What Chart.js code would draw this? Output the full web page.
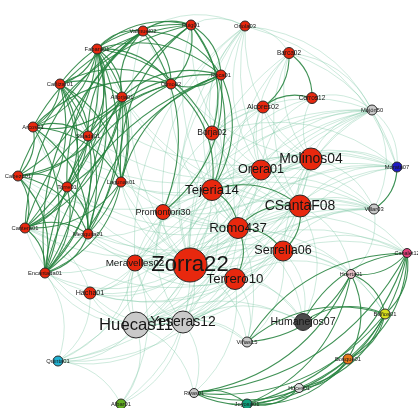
<!DOCTYPE html>
<html>
<head>
<meta charset="utf-8">
<script src="https://cdn.jsdelivr.net/npm/chart.js@4.4.1/dist/chart.umd.min.js"></script>
<style>
  html, body { margin: 0; padding: 0; background: #ffffff; }
  #wrap { width: 418px; height: 408px; }
</style>
</head>
<body>
<div id="wrap"><canvas id="net" width="418" height="408"></canvas></div>
<script>
// Site names (nodes of the network)
const siteNames = [
  "Fabara01", "Cañizar01", "Alforja01", "Arcos01", "Salada01", "Cabezo01",
  "Torre01", "Lagunas01", "Cantera01", "Mezquita01", "Encantada01", "Valmuel02",
  "Puig01", "Roca01", "Olmo02", "Borja02", "Oriola03", "Alcores02",
  "Barca02", "Cerros12", "Mojón50", "Molinos04", "Morata07", "CSantaF08",
  "Villar03", "Serrella06", "Canalet12", "Huerta01", "Orera01", "Tejeria14",
  "Promontori30", "Romo437", "Zorra22", "Terrero10", "Meravelles02", "Hacha01",
  "Huecas11", "Yeseras12", "Viñas15", "Humanejos07", "Baños01", "Bosque01",
  "Hoces01", "Rivas01", "Joyosa01", "Quinta01", "Albar01"
];

// Layout coordinates of each site
const layoutX = [
  97, 60, 122, 33, 88, 18, 67, 121, 25, 88, 45, 143,
  191, 221, 171, 212, 245, 263, 289, 312, 372, 311, 397, 300,
  374, 283, 407, 351, 261, 212, 163, 238, 190, 235, 135, 90,
  136, 183, 247, 303, 385, 348, 299, 194, 247, 58, 121
];
const layoutY = [
  49, 84, 97, 127, 136, 176, 187, 182, 228, 234, 273, 31,
  25, 75, 84, 133, 26, 107, 53, 98, 110, 159, 167, 206,
  209, 251, 253, 274, 170, 190, 212, 228, 265, 279, 263, 293,
  325, 322, 342, 322, 314, 359, 388, 393, 404, 361, 404
];

// Node weight (drawn as bubble radius)
const siteWeight = [
  5, 5, 5, 5, 5, 5, 5, 5, 5, 5, 5, 5,
  5, 5, 5, 7, 5, 6, 5.5, 5.5, 5, 11, 5, 11,
  5, 10, 4.5, 4.5, 10, 10.5, 7.5, 10.5, 17, 10.5, 8, 6,
  13, 11, 5, 8.5, 5, 5, 4.5, 4.5, 5, 5, 5
];

// Community of each site
const siteGroup = [
  0, 0, 0, 0, 0, 0, 0, 0, 0, 0, 0, 0,
  0, 0, 0, 0, 0, 0, 0, 0, 1, 0, 3, 0,
  1, 0, 4, 5, 0, 0, 0, 0, 0, 0, 0, 0,
  1, 1, 1, 2, 6, 7, 11, 1, 8, 9, 10
];

// Strong links (dark green)
const strongLinks = [
  [0,1],[0,2],[0,3],[0,4],[0,5],[0,6],[0,7],[0,8],[0,9],[0,10],[0,11],[0,12],[0,13],[0,14],
  [1,2],[1,3],[1,4],[1,6],[1,7],[1,8],[1,9],[1,10],[1,12],[1,14],
  [2,3],[2,5],[2,6],[2,8],[2,9],[2,10],[2,11],[2,13],
  [3,4],[3,5],[3,7],[3,9],[3,10],[3,12],[3,14],
  [4,5],[4,8],[4,10],[4,11],[4,13],
  [5,6],[5,8],[5,9],[5,10],[5,12],
  [6,8],[6,9],[6,10],[6,11],[6,14],
  [7,8],[7,10],[7,12],[7,13],
  [8,9],[8,10],[8,11],[8,14],
  [9,10],[9,12],[9,13],
  [10,11],[10,13],[10,14],
  [11,12],[11,13],[11,14],
  [12,13],[12,14],[13,14],
  [13,29],[12,29],[14,29],[11,30],[13,30],[0,15],[12,15],
  [29,31],[29,23],[31,25],[31,33],[23,25],[31,23],
  [22,24],[18,19],[17,19],[18,17],
  [26,27],[26,40],[26,41],[26,42],[26,43],[26,44],
  [27,40],[27,41],[27,43],[27,44],[27,38],
  [40,41],[40,42],[40,43],[40,44],
  [41,42],[41,43],[41,44],
  [42,43],[42,44],[43,44],
  [38,40],[38,26],[39,40],[39,26]
];

// Weak links (pale green)
const weakLinks = [
  [32,0],[32,2],[32,3],[32,5],[32,7],[32,9],[32,10],[32,11],[32,13],[32,16],[32,17],[32,18],
  [32,20],[32,21],[32,22],[32,23],[32,24],[32,25],[32,26],[32,27],[32,28],[32,29],[32,30],
  [32,31],[32,33],[32,34],[32,35],[32,36],[32,37],[32,38],[32,39],[32,45],[32,46],
  [31,1],[31,4],[31,6],[31,8],[31,12],[31,14],[31,15],[31,16],[31,18],[31,20],[31,21],
  [31,22],[31,24],[31,26],[31,28],[31,34],[31,35],[31,36],[31,37],[31,39],[31,40],[31,45],
  [29,3],[29,5],[29,8],[29,10],[29,16],[29,17],[29,19],[29,20],[29,21],[29,22],[29,24],
  [29,28],[29,30],[29,34],[29,35],[29,36],[29,37],[29,38],
  [23,0],[23,2],[23,6],[23,9],[23,15],[23,16],[23,17],[23,18],[23,20],[23,21],[23,22],
  [23,24],[23,26],[23,27],[23,28],[23,30],[23,34],[23,36],[23,37],[23,39],
  [21,1],[21,4],[21,11],[21,16],[21,17],[21,18],[21,19],[21,20],[21,22],[21,24],[21,28],
  [21,30],[21,34],[21,36],[21,37],
  [28,3],[28,7],[28,12],[28,15],[28,16],[28,17],[28,18],[28,19],[28,20],[28,22],[28,24],
  [28,30],[28,34],[28,36],
  [25,5],[25,9],[25,13],[25,20],[25,22],[25,24],[25,26],[25,27],[25,34],[25,35],[25,36],
  [25,37],[25,38],[25,39],[25,40],
  [33,8],[33,10],[33,20],[33,22],[33,24],[33,26],[33,27],[33,34],[33,36],[33,37],[33,38],
  [33,39],[33,43],[33,45],
  [36,35],[36,37],[36,38],[36,43],[36,45],[36,46],[36,10],[36,8],[36,30],[36,34],[36,39],[36,24],
  [37,35],[37,38],[37,43],[37,45],[37,46],[37,30],[37,34],[37,39],[37,24],[37,20],
  [30,16],[30,17],[30,20],[30,22],[30,24],[30,35],[30,45],
  [34,16],[34,20],[34,22],[34,24],[34,35],[34,45],[34,46],
  [15,16],[15,17],[15,20],[15,22],
  [16,20],[16,22],[18,20],[18,22],[19,20],[16,18],[12,16],[11,16],[20,24],[22,24],
  [24,27],[20,22],[45,46],[35,45],[10,45],[8,35]
];

const groupFill = [
  "#e8280e", "#c9c9c9", "#4a4a4a", "#1d1ac4", "#e0407a", "#e6bfc6",
  "#d6de1e", "#e87a18", "#12a07e", "#22b2d2", "#62ae22", "#dcdcdc"
];

const points = siteNames.map((n, i) => ({ x: layoutX[i], y: layoutY[i], r: siteWeight[i], name: n }));

// Curved links drawn through the chart's own scales
const linkPlugin = {
  id: 'links',
  beforeDatasetsDraw(chart) {
    const { ctx, scales } = chart;
    const sx = scales.x, sy = scales.y;
    const drawSet = (links, stroke, width, k) => {
      ctx.strokeStyle = stroke;
      ctx.lineWidth = width;
      links.forEach(([a, b]) => {
        const x1 = sx.getPixelForValue(layoutX[a]), y1 = sy.getPixelForValue(layoutY[a]);
        const x2 = sx.getPixelForValue(layoutX[b]), y2 = sy.getPixelForValue(layoutY[b]);
        const mx = (x1 + x2) / 2, my = (y1 + y2) / 2;
        const dx = x2 - x1, dy = y2 - y1;
        const cx = mx + dy * k, cy = my - dx * k;
        ctx.beginPath();
        ctx.moveTo(x1, y1);
        ctx.quadraticCurveTo(cx, cy, x2, y2);
        ctx.stroke();
      });
    };
    ctx.save();
    drawSet(weakLinks, 'rgba(120,196,162,0.36)', 1, 0.27);
    drawSet(strongLinks, 'rgba(36,130,62,0.88)', 1.1, 0.27);
    ctx.restore();
  }
};

// Site labels centred on each node
const labelPlugin = {
  id: 'labels',
  afterDatasetsDraw(chart) {
    const { ctx, scales } = chart;
    ctx.save();
    ctx.textAlign = 'center';
    ctx.textBaseline = 'middle';
    ctx.fillStyle = '#161616';
    siteNames.forEach((n, i) => {
      const r = siteWeight[i];
      const fs = Math.max(5.5, 1.36 * r - 1);
      ctx.font = fs + 'px "Liberation Sans", Arial, sans-serif';
      ctx.fillText(n, scales.x.getPixelForValue(layoutX[i]), scales.y.getPixelForValue(layoutY[i]));
    });
    ctx.restore();
  }
};

new Chart(document.getElementById('net'), {
  type: 'bubble',
  data: {
    datasets: [{
      data: points,
      backgroundColor: siteGroup.map(g => groupFill[g]),
      borderColor: '#2a2a2a',
      borderWidth: 1,
      clip: false
    }]
  },
  options: {
    responsive: false,
    animation: false,
    events: [],
    devicePixelRatio: 1,
    layout: { padding: 0, autoPadding: false },
    plugins: { legend: { display: false }, tooltip: { enabled: false } },
    scales: {
      x: { type: 'linear', min: 0, max: 418, display: false },
      y: { type: 'linear', min: 0, max: 408, reverse: true, display: false }
    }
  },
  plugins: [linkPlugin, labelPlugin]
});
</script>
</body>
</html>
